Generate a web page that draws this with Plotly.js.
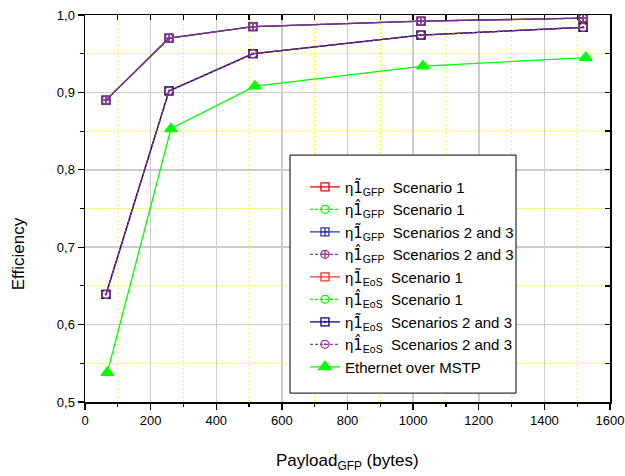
<!DOCTYPE html>
<html>
<head>
<meta charset="utf-8">
<script src="https://cdn.plot.ly/plotly-3.0.1.min.js"></script>
<style>html,body{margin:0;padding:0;background:#fff;}</style>
</head>
<body>
<div id="chart" style="width:625px;height:476px;"></div>
<script>
// Data
const payloadGFP = [64, 256, 512, 1024, 1518];
const effGFP = [0.890, 0.970, 0.985, 0.992, 0.996];
const effEoS = [0.639, 0.902, 0.950, 0.974, 0.984];
const payloadEth = [68, 262, 518, 1030, 1526];
const effEth = [0.538, 0.853, 0.908, 0.934, 0.945];

const xTickVals = [0, 200, 400, 600, 800, 1000, 1200, 1400, 1600];
const xTickText = ["0", "200", "400", "600", "800", "1000", "1200", "1400", "1600"];
const xMinorVals = [100, 300, 500, 700, 900, 1100, 1300, 1500];
const yTickVals = [0.5, 0.6, 0.7, 0.8, 0.9, 1.0];
const yTickText = ["0,5", "0,6", "0,7", "0,8", "0,9", "1,0"];
const yMinorVals = [0.55, 0.65, 0.75, 0.85, 0.95];

const T = '<span style="font-family:DejaVu Sans">1\u0303</span>';
const H = '<span style="font-family:DejaVu Sans">1\u0302</span>';
const seriesNames = [
  "\u03B7" + T + "<sub>GFP</sub>\u00A0\u00A0Scenario 1",
  "\u03B7" + H + "<sub>GFP</sub>\u00A0\u00A0Scenario 1",
  "\u03B7" + T + "<sub>GFP</sub>\u00A0\u00A0Scenarios 2 and 3",
  "\u03B7" + H + "<sub>GFP</sub>\u00A0\u00A0Scenarios 2 and 3",
  "\u03B7" + T + "<sub>EoS</sub>\u00A0\u00A0Scenario 1",
  "\u03B7" + H + "<sub>EoS</sub>\u00A0\u00A0Scenario 1",
  "\u03B7" + T + "<sub>EoS</sub>\u00A0\u00A0Scenarios 2 and 3",
  "\u03B7" + H + "<sub>EoS</sub>\u00A0\u00A0Scenarios 2 and 3",
  "Ethernet over MSTP"
];

function mk(name, x, y, color, dash, symbol, size) {
  return {
    type: 'scatter', mode: 'lines+markers', name: name, x: x, y: y,
    line: {color: color, width: 1.3, dash: dash},
    marker: {symbol: symbol, size: size, color: color, line: {color: color, width: 1.3}},
    hoverinfo: 'x+y'
  };
}

const dashS = '3px,2px';
const traces = [
  {type: 'scatter', mode: 'markers', x: [], y: [], xaxis: 'x3', yaxis: 'y3', showlegend: false, hoverinfo: 'skip'},
  mk(seriesNames[0], payloadGFP, effGFP, '#FF0000', 'solid', 'square-open', 8),
  mk(seriesNames[1], payloadGFP, effGFP, '#00FF00', dashS, 'circle-open', 8),
  mk(seriesNames[2], payloadGFP, effGFP, '#333399', 'solid', 'square-cross-open', 8),
  mk(seriesNames[3], payloadGFP, effGFP, '#993399', dashS, 'circle-cross-open', 8),
  mk(seriesNames[4], payloadGFP, effEoS, '#FF3333', 'solid', 'square-open', 8),
  mk(seriesNames[5], payloadGFP, effEoS, '#00FF00', dashS, 'circle-open', 8),
  mk(seriesNames[6], payloadGFP, effEoS, '#000080', 'solid', 'square-open-dot', 8),
  mk(seriesNames[7], payloadGFP, effEoS, '#993399', dashS, 'circle-open-dot', 8),
  mk(seriesNames[8], payloadEth, effEth, '#00FF00', 'solid', 'triangle-up', 11),
  {type: 'scatter', mode: 'markers', x: [], y: [], xaxis: 'x2', yaxis: 'y2', showlegend: false, hoverinfo: 'skip'}
];

const FF = 'Arial, Liberation Sans, sans-serif';
const axisFont = {family: FF, size: 13, color: '#000'};
const xr = [0, 1600], yr = [0.5, 1.0];
const YEL = '#FFFF00';
const xAll = xTickVals.concat(xMinorVals);
const yAll = yTickVals.concat(yMinorVals);

// yellow dotted minor grid, positioned through the axes
const gridShapes = xMinorVals.map(v => ({type: 'line', xref: 'x', yref: 'paper', x0: v, x1: v, y0: 0, y1: 1,
    line: {color: YEL, width: 1, dash: '2px,2px'}, layer: 'below'}))
  .concat(yMinorVals.map(v => ({type: 'line', xref: 'paper', yref: 'y', x0: 0, x1: 1, y0: v, y1: v,
    line: {color: YEL, width: 1, dash: '2px,2px'}, layer: 'below'})));

const layout = {
  width: 625, height: 476,
  margin: {l: 85, r: 15, t: 15, b: 74},
  paper_bgcolor: '#fff', plot_bgcolor: '#fff',
  font: {family: FF, color: '#000'},
  showlegend: true,
  legend: {
    x: 0.419, y: 0.598, xanchor: 'left', yanchor: 'top',
    bgcolor: 'rgba(0,0,0,0)', borderwidth: 0,
    font: {family: FF, size: 15, color: '#000'},
    itemwidth: 30, tracegroupgap: 0
  },
  shapes: gridShapes.concat([
    {type: 'rect', xref: 'paper', yref: 'paper', x0: 0.3905, x1: 0.821, y0: 0.023, y1: 0.638,
     fillcolor: '#fff', line: {color: '#000', width: 1}, layer: 'above'}
  ]),
  xaxis: {
    range: xr, tickmode: 'array', tickvals: xTickVals, ticktext: xTickText, tickfont: axisFont,
    showline: true, linecolor: '#000', linewidth: 1.5,
    ticks: 'outside', ticklen: 6, tickwidth: 1.3, tickcolor: '#000',
    showgrid: true, gridcolor: '#CCCCCC', gridwidth: 1.5, zeroline: false
  },
  yaxis: {
    range: yr, tickmode: 'array', tickvals: yTickVals, ticktext: yTickText, tickfont: axisFont,
    showline: true, linecolor: '#000', linewidth: 1.5,
    ticks: 'outside', ticklen: 6, tickwidth: 1.3, tickcolor: '#000',
    showgrid: true, gridcolor: '#CCCCCC', gridwidth: 1.5, zeroline: false
  },
  xaxis3: {
    overlaying: 'x', side: 'bottom', range: xr, tickmode: 'array', tickvals: xMinorVals, showticklabels: false,
    showline: false, ticks: 'outside', ticklen: 4, tickwidth: 1.2, tickcolor: '#000',
    showgrid: false, zeroline: false
  },
  yaxis3: {
    overlaying: 'y', side: 'left', range: yr, tickmode: 'array', tickvals: yMinorVals, showticklabels: false,
    showline: false, ticks: 'outside', ticklen: 4, tickwidth: 1.2, tickcolor: '#000',
    showgrid: false, zeroline: false
  },
  xaxis2: {
    overlaying: 'x', side: 'top', range: xr, tickmode: 'array', tickvals: xAll, showticklabels: false,
    showline: true, linecolor: '#000', linewidth: 1.5, ticks: 'inside', ticklen: 5, tickwidth: 1.3, tickcolor: '#000',
    showgrid: false, zeroline: false
  },
  yaxis2: {
    overlaying: 'y', side: 'right', range: yr, tickmode: 'array', tickvals: yAll, showticklabels: false,
    showline: true, linecolor: '#000', linewidth: 1.5, ticks: 'inside', ticklen: 5, tickwidth: 1.3, tickcolor: '#000',
    showgrid: false, zeroline: false
  },
  annotations: [
    {text: 'Efficiency', xref: 'paper', yref: 'paper', x: -0.1276, y: 0.3817, xanchor: 'center', yanchor: 'middle',
     textangle: -90, showarrow: false, font: {family: FF, size: 17, color: '#000'}},
    {text: 'Payload<sub>GFP</sub> (bytes)', xref: 'paper', yref: 'paper', x: 0.5, y: -0.156, xanchor: 'center', yanchor: 'middle',
     showarrow: false, font: {family: FF, size: 17, color: '#000'}}
  ]
};

Plotly.newPlot('chart', traces, layout, {displayModeBar: false, staticPlot: true});
</script>
</body>
</html>
